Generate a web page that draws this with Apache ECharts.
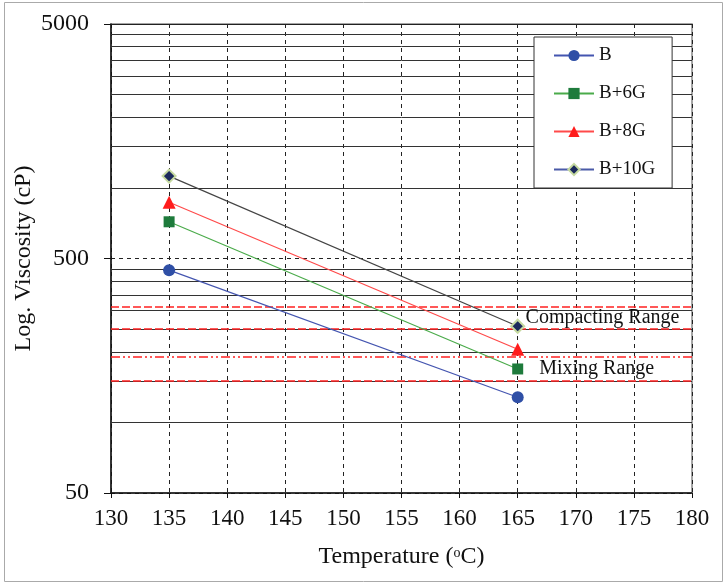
<!DOCTYPE html>
<html>
<head>
<meta charset="utf-8">
<script src="https://cdn.jsdelivr.net/npm/echarts@6/dist/echarts.min.js"></script>
<style>html,body{margin:0;padding:0;background:#fff;}#c{width:727px;height:585px;}</style>
</head>
<body>
<div id="c"></div>
<script>
// ---- data ----
const temps = [135, 165];
const seriesNames = ['B', 'B+6G', 'B+8G', 'B+10G'];
const viscB = [446, 128];
const visc6G = [717, 169];
const visc8G = [869, 205];
const visc10G = [1123, 257];
const yTickValues = [50, 500, 5000];
const minorGridValues = [100, 150, 200, 250, 300, 350, 400, 450, 1000, 1500, 2000, 2500, 3000, 3500, 4000, 4500];
const compactingRange = [250, 310];
const mixingRange = [150, 190];
const compactingLabelAt = [172.3, 280];
const mixingLabelAt = [171.8, 170];
const xMin = 130, xMax = 180, xStep = 5;
const yMin = 50, yMax = 5000;

const FONT = 'Liberation Serif';
const chart = echarts.init(document.getElementById('c'), null, {renderer: 'canvas'});

function pts(vals) { return temps.map((t, i) => [t, vals[i]]); }

const minorLines = minorGridValues.map(v => ({yAxis: v, lineStyle: {color: '#333', width: 1, type: 'solid'}}));
minorLines.push({yAxis: yMax, lineStyle: {color: '#222', width: 1.2, type: 'solid'}});
const redStyle = {color: '#ff2222', width: 1.5};
const rangeLines = [
  {yAxis: compactingRange[1], lineStyle: Object.assign({type: [8, 3]}, redStyle)},
  {yAxis: compactingRange[0], lineStyle: Object.assign({type: [8, 3]}, redStyle)},
  {yAxis: mixingRange[1], lineStyle: Object.assign({type: [9, 3, 2, 3, 2, 3]}, redStyle)},
  {yAxis: mixingRange[0], lineStyle: Object.assign({type: [8, 3]}, redStyle)}
];

const option = {
  backgroundColor: '#fff',
  animation: false,
  textStyle: {fontFamily: FONT},
  graphic: [{
    type: 'rect', shape: {x: 4.5, y: 2.5, width: 718, height: 579},
    style: {fill: 'none', stroke: '#aaa', lineWidth: 1}, silent: true, z: -1
  }],
  grid: {left: 111, right: 35, top: 24, bottom: 92, show: true, borderColor: '#888', borderWidth: 1.5,
    backgroundColor: 'transparent', containLabel: false, outerBoundsMode: 'none'},
  legend: {
    orient: 'vertical', left: 534, top: 37,
    padding: [9, 17, 9, 19], itemGap: 19, itemWidth: 40, itemHeight: 14,
    backgroundColor: '#fff', borderColor: '#333', borderWidth: 1,
    textStyle: {fontFamily: FONT, fontSize: 19, color: '#111', padding: [0, 0, 0, 0]},
    data: [
      {name: seriesNames[0]},
      {name: seriesNames[1]},
      {name: seriesNames[2]},
      {name: seriesNames[3], lineStyle: {color: '#4a5aa8'}}
    ]
  },
  xAxis: {
    type: 'value', min: xMin, max: xMax, interval: xStep,
    name: '{t|Temperature (}{s|o}{t|C)}', nameLocation: 'middle', nameGap: 50, nameMoveOverlap: false,
    nameTextStyle: {rich: {
      t: {fontFamily: FONT, fontSize: 24, color: '#111', lineHeight: 28},
      s: {fontFamily: FONT, fontSize: 14, color: '#111', lineHeight: 14, verticalAlign: 'top', padding: [3, 0, 0, 0]}
    }},
    axisLine: {show: true, onZero: false, lineStyle: {color: '#111', width: 1.5}},
    axisTick: {show: true, inside: false, length: 5, lineStyle: {color: '#111', width: 1}},
    axisLabel: {fontFamily: FONT, fontSize: 23, color: '#111', margin: 14},
    splitLine: {show: true, lineStyle: {color: '#222', width: 1, type: [4, 4]}}
  },
  yAxis: {
    type: 'log', logBase: 10, min: yMin, max: yMax,
    name: 'Log. Viscosity (cP)', nameLocation: 'middle', nameGap: 75, nameMoveOverlap: false,
    nameTextStyle: {fontFamily: FONT, fontSize: 24, color: '#111'},
    axisLine: {show: true, onZero: false, lineStyle: {color: '#111', width: 1.5}},
    axisTick: {show: true, inside: false, length: 7, customValues: yTickValues, lineStyle: {color: '#111', width: 1}},
    axisLabel: {fontFamily: FONT, fontSize: 24, color: '#111', margin: 22, customValues: yTickValues,
      formatter: v => String(Math.round(v))},
    splitLine: {show: true, lineStyle: {color: '#222', width: 1, type: [4, 4]}},
    minorTick: {show: false},
    minorSplitLine: {show: false}
  },
  series: [
    {
      name: seriesNames[0], type: 'line', data: pts(viscB), z: 5,
      symbol: 'circle', symbolSize: 12,
      lineStyle: {color: '#4455b0', width: 1.2},
      itemStyle: {color: '#2f4fa6'},
      markLine: {
        silent: true, symbol: ['none', 'none'], label: {show: false}, z: 1,
        data: minorLines.concat(rangeLines)
      }
    },
    {
      name: seriesNames[1], type: 'line', data: pts(visc6G), z: 5,
      symbol: 'rect', symbolSize: 11,
      lineStyle: {color: '#4aab4a', width: 1.2},
      itemStyle: {color: '#1e7b3c'},
      markPoint: {
        silent: true, symbol: 'circle', symbolSize: 0,
        label: {show: true, position: 'inside', fontFamily: FONT, fontSize: 20, color: '#111'},
        data: [
          {coord: compactingLabelAt, value: 0, label: {formatter: 'Compacting Range'}},
          {coord: mixingLabelAt, value: 0, label: {formatter: 'Mixing Range'}}
        ]
      }
    },
    {
      name: seriesNames[2], type: 'line', data: pts(visc8G), z: 5,
      symbol: 'triangle', symbolSize: 13,
      lineStyle: {color: '#ff4a4a', width: 1.2},
      itemStyle: {color: '#ff1c1c'}
    },
    {
      name: seriesNames[3], type: 'line', data: pts(visc10G), z: 5,
      symbol: 'diamond', symbolSize: 13,
      lineStyle: {color: '#444', width: 1.2},
      itemStyle: {color: '#1c2a5c', borderColor: '#c5d9a0', borderWidth: 2}
    }
  ]
};
chart.setOption(option);
</script>
</body>
</html>
